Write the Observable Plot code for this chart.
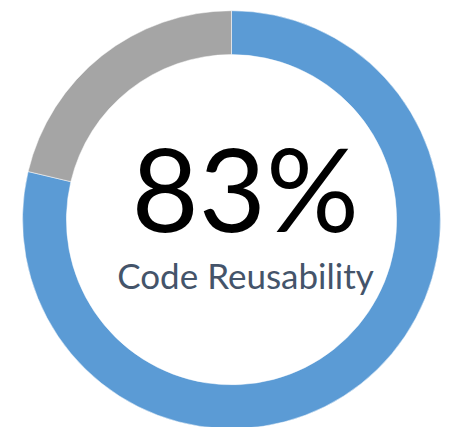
<!DOCTYPE html>
<html>
<head>
<meta charset="utf-8">
<script src="https://cdn.jsdelivr.net/npm/d3@7"></script>
<script src="https://cdn.jsdelivr.net/npm/@observablehq/plot@0.6"></script>
<style>
  html, body { margin: 0; padding: 0; background: #fff; }
</style>
</head>
<body>
<div id="chart"></div>
<script>
const categories = ["Reusable", "Other"];
const values = [78.7, 21.3];
const colors = ["#5B9BD5", "#A5A5A5"];
const bigLabel = ["83%"];
const subLabel = ["Code Reusability"];

const data = categories.map((c, i) => ({category: c, value: values[i]}));
const colorScale = d3.scaleOrdinal(categories, colors);
const innerRatio = 0.79;

const donut = (index, scales, vals, dimensions) => {
  const cx = scales.x(0), cy = scales.y(0);
  const R = scales.x(1) - cx;
  const arcs = d3.pie().sort(null).value(d => d.value)(data);
  const arc = d3.arc().innerRadius(R * innerRatio).outerRadius(R);
  const g = d3.create("svg:g").attr("transform", `translate(${cx},${cy})`);
  g.selectAll("path").data(arcs).join("path")
    .attr("d", arc)
    .attr("fill", d => colorScale(d.data.category))
    .attr("stroke", "white")
    .attr("stroke-width", 0.5);
  return g.node();
};

const chart = Plot.plot({
  width: 452,
  height: 427,
  margin: 0,
  style: {background: "white"},
  x: {domain: [-1, 1], range: [22.5, 440.5], axis: null},
  y: {domain: [-1, 1], range: [428.7, 10.7], axis: null},
  marks: [
    donut,
    Plot.text(bigLabel, {
      text: d => d, frameAnchor: "middle", lineAnchor: "bottom",
      dx: 18.7, dy: 18.2, fontSize: 116, fontFamily: "Lato", fill: "#000"
    }),
    Plot.text(subLabel, {
      text: d => d, frameAnchor: "middle", lineAnchor: "bottom",
      dx: 19, dy: 74.8, fontSize: 35, fontFamily: "Lato", fill: "#44546A"
    })
  ]
});
document.getElementById("chart").appendChild(chart);
</script>
</body>
</html>
